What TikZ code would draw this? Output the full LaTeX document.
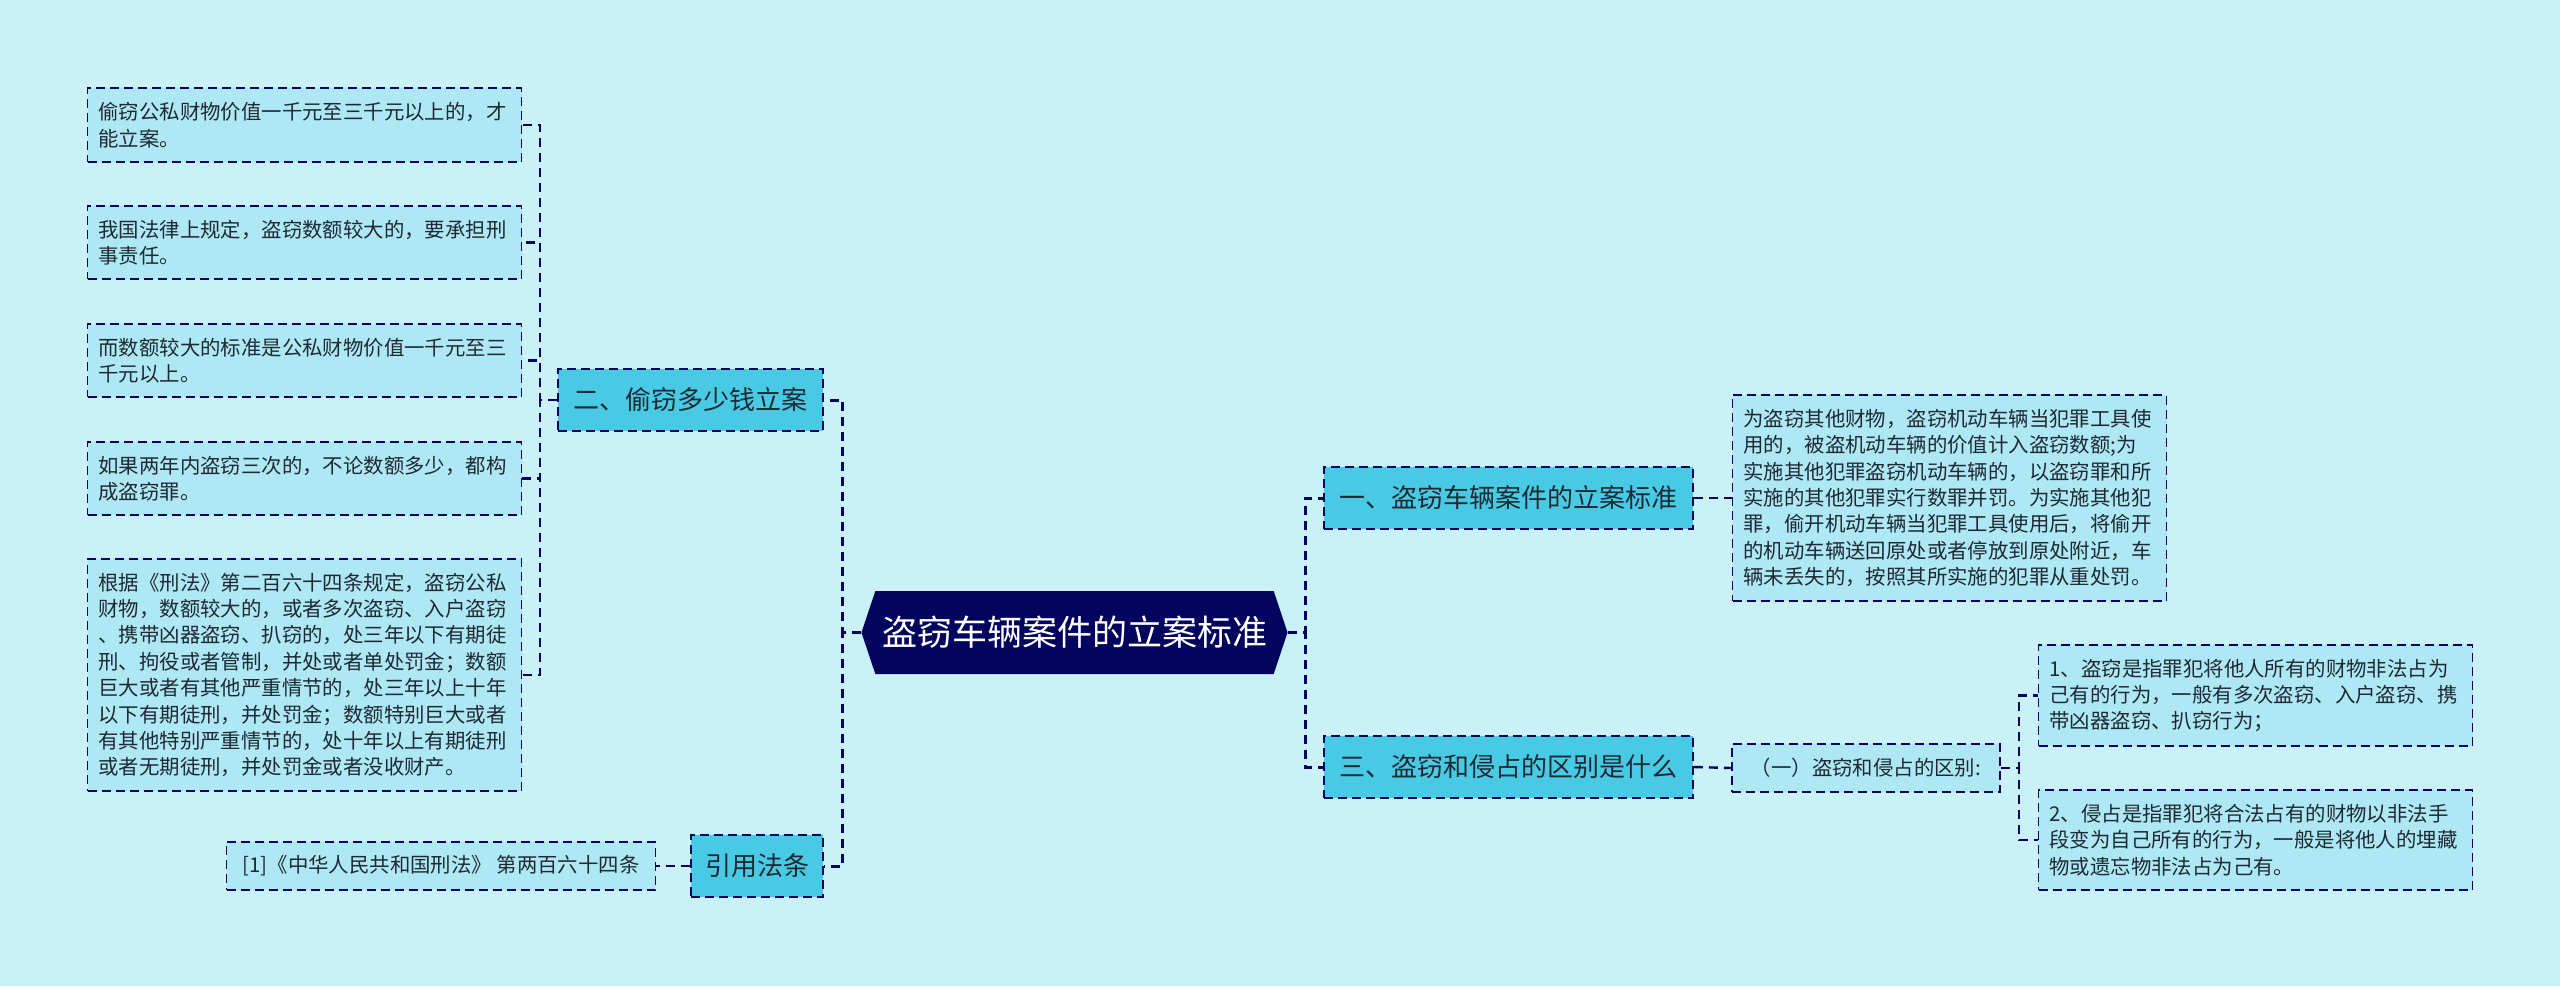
\documentclass[tikz,border=0pt]{standalone}
\usepackage{fontspec}
\setmainfont{Noto Sans CJK SC}
\usepackage{tikz}
\usetikzlibrary{positioning,calc,shapes.symbols}
\definecolor{bgcol}{HTML}{CAF0F8}
\definecolor{leafcol}{HTML}{ADE8F4}
\definecolor{topiccol}{HTML}{48CAE4}
\definecolor{rootcol}{HTML}{03045E}
\definecolor{txtcol}{HTML}{1F2933}

\begin{document}
\begin{tikzpicture}[x=0.5pt, y=-0.5pt,
    leaf/.style={draw=rootcol, line width=0.9pt, dash pattern=on 4.5pt off 2.5pt, fill=leafcol, text=txtcol, align=left, text width=206pt, inner xsep=5.5pt, inner ysep=7pt, font=\fontsize{10.2pt}{13.2pt}\selectfont},
    tag/.style={draw=rootcol, line width=0.9pt, dash pattern=on 4.5pt off 2.5pt, fill=leafcol, text=txtcol, inner xsep=8pt, minimum height=24pt, font=\fontsize{10.2pt}{13.2pt}\selectfont},
    topic/.style={draw=rootcol, line width=0.9pt, dash pattern=on 4.5pt off 2.5pt, fill=topiccol, text=txtcol, minimum height=31pt, font=\fontsize{13pt}{15pt}\selectfont},
    hub/.style={signal, signal to=west and east, signal pointer angle=143, fill=rootcol, text=white, minimum width=212.5pt, minimum height=41.5pt, font=\fontsize{17.5pt}{20pt}\selectfont},
    link/.style={draw=rootcol, line width=1.2pt, dash pattern=on 4.5pt off 3pt},
    elbow/.style={to path={-| ($(\tikztostart)!0.5!(\tikztotarget)$) |- (\tikztotarget)}}
]
\fill[bgcol] (0,0) rectangle (2560,986);

\node[hub] (root) at (1074.5,632.5) {盗窃车辆案件的立案标准};

\node[topic, minimum width=132.5pt] (two) at (690.5,400) {二、偷窃多少钱立案};
\node[topic, minimum width=66pt] (law) at (757,866) {引用法条};
\node[topic, minimum width=184.5pt] (one) at (1508.5,498) {一、盗窃车辆案件的立案标准};
\node[topic, minimum width=184.5pt] (three) at (1508.5,767) {三、盗窃和侵占的区别是什么};

\node[leaf] (l1) at (304.5,125) {偷窃公私财物价值一千元至三千元以上的，才\\能立案。};
\node[leaf] (l2) at (304.5,242.5) {我国法律上规定，盗窃数额较大的，要承担刑\\事责任。};
\node[leaf] (l3) at (304.5,360.5) {而数额较大的标准是公私财物价值一千元至三\\千元以上。};
\node[leaf] (l4) at (304.5,478.5) {如果两年内盗窃三次的，不论数额多少，都构\\成盗窃罪。};
\node[leaf] (l5) at (304.5,675) {根据《刑法》第二百六十四条规定，盗窃公私\\财物，数额较大的，或者多次盗窃、入户盗窃\\、携带凶器盗窃、扒窃的，处三年以下有期徒\\刑、拘役或者管制，并处或者单处罚金；数额\\巨大或者有其他严重情节的，处三年以上十年\\以下有期徒刑，并处罚金；数额特别巨大或者\\有其他特别严重情节的，处十年以上有期徒刑\\或者无期徒刑，并处罚金或者没收财产。};

\node[tag, minimum width=212pt] (ref) at (441,866) {[1]《中华人民共和国刑法》 第两百六十四条};

\node[leaf] (r1) at (1949.5,498) {为盗窃其他财物，盗窃机动车辆当犯罪工具使\\用的，被盗机动车辆的价值计入盗窃数额;为\\实施其他犯罪盗窃机动车辆的，以盗窃罪和所\\实施的其他犯罪实行数罪并罚。为实施其他犯\\罪，偷开机动车辆当犯罪工具使用后，将偷开\\的机动车辆送回原处或者停放到原处附近，车\\辆未丢失的，按照其所实施的犯罪从重处罚。};
\node[tag, minimum width=134pt] (sub) at (1866,768) {（一）盗窃和侵占的区别:};
\node[leaf] (ra) at (2255.5,695.5) {1、盗窃是指罪犯将他人所有的财物非法占为\\己有的行为，一般有多次盗窃、入户盗窃、携\\带凶器盗窃、扒窃行为；};
\node[leaf] (rb) at (2255.5,840) {2、侵占是指罪犯将合法占有的财物以非法手\\段变为自己所有的行为，一般是将他人的埋藏\\物或遗忘物非法占为己有。};

\draw[link, line width=1.5pt] (root.west) to[elbow] (two.east);
\draw[link, line width=1.5pt] (root.west) to[elbow] (law.east);
\draw[link, line width=1.5pt] (root.east) to[elbow] (one.west);
\draw[link, line width=1.5pt] (root.east) to[elbow] (three.west);
\foreach \n in {l1,l2,l3,l4,l5}
  \draw[link] (two.west) to[elbow] (\n.east);
\draw[link] (law.west) -- (ref.east);
\draw[link] (one.east) -- (r1.west);
\draw[link] (three.east) -- (sub.west);
\draw[link] (sub.east) to[elbow] (ra.west);
\draw[link] (sub.east) to[elbow] (rb.west);
\end{tikzpicture}
\end{document}
